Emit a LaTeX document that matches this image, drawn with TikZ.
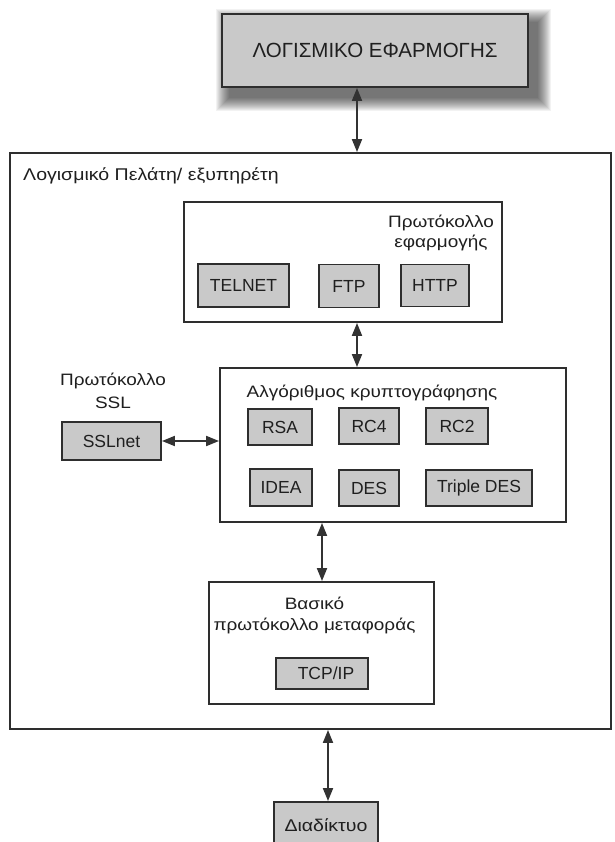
\documentclass[tikz,border=0pt]{standalone}
\usepackage{fontspec}
\setmainfont{Liberation Sans}
\newfontfamily\widefont[FakeStretch=1.15]{Liberation Sans}
\usetikzlibrary{arrows.meta}
\begin{document}
\begin{tikzpicture}[x=1pt,y=-1pt,
  every node/.style={text=black!88},
  lbl/.style={inner sep=0pt, font=\widefont\fontsize{16.5}{20}\selectfont},
  frame/.style={draw=black!82, line width=1.9pt, inner sep=0pt},
  gbox/.style={frame, fill=black!21, font=\fontsize{17.5}{21}\selectfont},
  arr/.style={{Triangle[length=13pt,width=10pt]}-{Triangle[length=13pt,width=10pt]}, line width=1.9pt, draw=black!80}
]
\useasboundingbox (0,0) rectangle (614,842);
\fill[white] (0,0) rectangle (614,842);

% shadow of the top box
\foreach \e in {0,...,13}
  \fill[black, opacity=0.05] (229-\e,22-\e) rectangle (538+\e,98+\e);

\node[gbox, minimum width=306pt, minimum height=73pt, font=\fontsize{20.5}{24}\selectfont] (top) at (375,50.5) {ΛΟΓΙΣΜΙΚΟ ΕΦΑΡΜΟΓΗΣ};

% outer frame
\node[frame, minimum width=601pt, minimum height=576pt] (outer) at (310.5,441) {};
\node[lbl, anchor=base west, font=\widefont\fontsize{17}{20}\selectfont] (title) at (23,181) {Λογισμικό Πελάτη/ εξυπηρέτη};

% application protocol
\node[frame, minimum width=318pt, minimum height=120pt] (app) at (343,262) {};
\node[lbl, anchor=base] (appl1) at (441,227) {Πρωτόκολλο};
\node[lbl, anchor=base] (appl2) at (441,247) {εφαρμογής};
\node[gbox, minimum width=91pt, minimum height=43pt] (telnet) at (243.5,285.5) {TELNET};
\node[gbox, minimum width=60pt, minimum height=43pt] (ftp) at (349,286) {FTP};
\node[gbox, minimum width=68pt, minimum height=42pt] (http) at (435,285.5) {HTTP};

% SSL
\node[lbl, anchor=base] (ssl1) at (113,385) {Πρωτόκολλο};
\node[lbl, anchor=base] (ssl2) at (113,408) {SSL};
\node[gbox, minimum width=99pt, minimum height=38pt] (sslnet) at (111.5,441) {SSLnet};

% encryption algorithms
\node[frame, minimum width=346pt, minimum height=154pt] (crypto) at (393,445) {};
\node[lbl, anchor=base] (cryl) at (372,397) {Αλγόριθμος κρυπτογράφησης};
\node[gbox, minimum width=64pt, minimum height=36pt] (rsa) at (280,427) {RSA};
\node[gbox, minimum width=60pt, minimum height=36pt] (rc4) at (369,426) {RC4};
\node[gbox, minimum width=62pt, minimum height=36pt] (rc2) at (457,426) {RC2};
\node[gbox, minimum width=62pt, minimum height=37pt] (idea) at (281,487.5) {IDEA};
\node[gbox, minimum width=60pt, minimum height=36pt] (des) at (369,488) {DES};
\node[gbox, minimum width=106pt, minimum height=36pt] (tdes) at (479,488) {Triple DES};

% basic transport protocol
\node[frame, minimum width=225pt, minimum height=122pt] (basic) at (321.5,643) {};
\node[lbl, anchor=base] (bas1) at (314.5,609) {Βασικό};
\node[lbl, anchor=base] (bas2) at (314.5,630) {πρωτόκολλο μεταφοράς};
\node[gbox, minimum width=92pt, minimum height=31pt] (tcp) at (322,673.5) {\hspace*{8pt}TCP/IP};

% internet
\node[gbox, minimum width=104pt, minimum height=46pt, font=\widefont\fontsize{17}{21}\selectfont] (net) at (326,825) {Διαδίκτυο};

% connectors
\coordinate (xa) at (357,0);
\coordinate (xb) at (322,0);
\coordinate (xc) at (328,0);
\draw[arr] (top.south -| xa) -- (outer.north -| xa);
\draw[arr] (app.south -| xa) -- (crypto.north -| xa);
\draw[arr] (sslnet.east) -- (sslnet.east -| crypto.west);
\draw[arr] (crypto.south -| xb) -- (basic.north -| xb);
\draw[arr] (outer.south -| xc) -- (net.north -| xc);
\end{tikzpicture}
\end{document}
